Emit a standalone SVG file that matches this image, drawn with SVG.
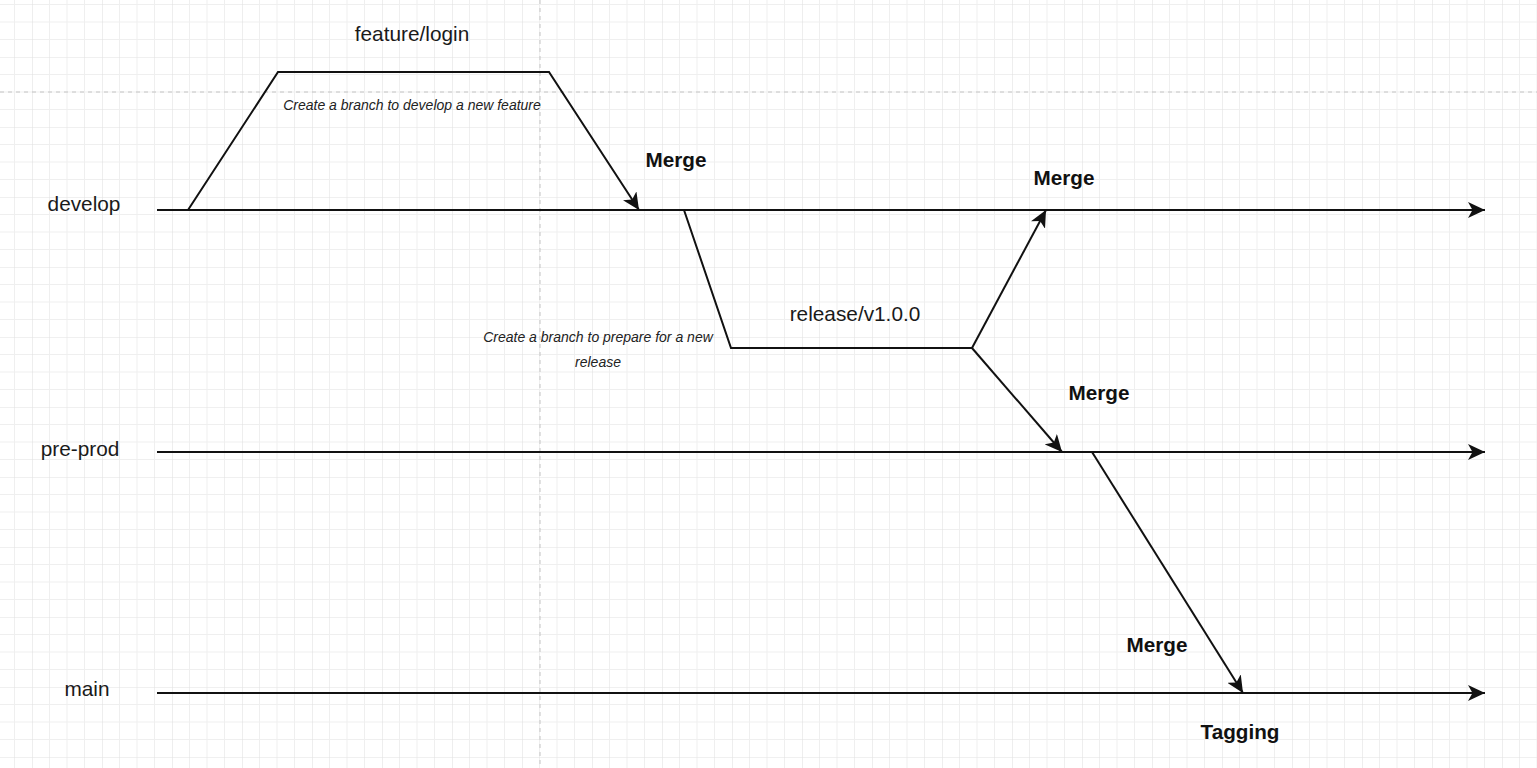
<svg xmlns="http://www.w3.org/2000/svg" width="1537" height="768" viewBox="0 0 1537 768">
  <style>
    .lbl { font-family: "Liberation Sans", Arial, sans-serif; font-size: 20.8px; fill: #1a1a1a; }
    .bold { font-family: "Liberation Sans", Arial, sans-serif; font-size: 20.7px; font-weight: bold; fill: #111; }
    .note { font-family: "Liberation Sans", Arial, sans-serif; font-size: 14px; font-style: italic; fill: #222; }
    .ln { fill: none; stroke: #111; stroke-width: 2; stroke-linejoin: miter; }
    .page { stroke: #c4c4c4; stroke-width: 1; stroke-dasharray: 4 4; }
  </style>
  <defs>
    <pattern id="grid" x="32" y="57" width="70" height="70" patternUnits="userSpaceOnUse">
      <path d="M17.5 0V70M35 0V70M52.5 0V70M0 17.5H70M0 35H70M0 52.5H70" stroke="#efefef" stroke-width="1" fill="none"/>
      <path d="M0 0V70M0 0H70" stroke="#e2e2e2" stroke-width="1.2" fill="none"/>
    </pattern>
    <marker id="arr" markerUnits="userSpaceOnUse" markerWidth="18" markerHeight="16" refX="17" refY="8" orient="auto">
      <path d="M0,0 L17,8 L0,16 L4.5,8 Z" fill="#111"/>
    </marker>
  </defs>
  <rect width="1537" height="768" fill="#ffffff"/>
  <rect width="1537" height="768" fill="url(#grid)"/>
  <line class="page" x1="0" y1="92" x2="1537" y2="92"/>
  <line class="page" x1="540" y1="0" x2="540" y2="768"/>

  <g id="connectors">
    <line class="ln" x1="157" y1="210" x2="1485" y2="210" marker-end="url(#arr)"/>
    <line class="ln" x1="157" y1="452" x2="1485" y2="452" marker-end="url(#arr)"/>
    <line class="ln" x1="157" y1="693" x2="1485" y2="693" marker-end="url(#arr)"/>
    <polyline class="ln" points="188,210 278,72 549,72 639,210" marker-end="url(#arr)"/>
    <polyline class="ln" points="684,210 731,348 972,348"/>
    <line class="ln" x1="972" y1="348" x2="1046" y2="210" marker-end="url(#arr)"/>
    <line class="ln" x1="972" y1="348" x2="1062" y2="452" marker-end="url(#arr)"/>
    <line class="ln" x1="1092" y1="452" x2="1243" y2="693" marker-end="url(#arr)"/>
  </g>

  <g id="develop"><text class="lbl" x="84" y="211" text-anchor="middle">develop</text></g>
  <g id="pre-prod"><text class="lbl" x="80" y="456" text-anchor="middle">pre-prod</text></g>
  <g id="main"><text class="lbl" x="87" y="696" text-anchor="middle">main</text></g>
  <g id="feature-login">
    <text class="lbl" x="412" y="41" text-anchor="middle">feature/login</text>
    <text class="note" x="412" y="110" text-anchor="middle">Create a branch to develop a new feature</text>
  </g>
  <g id="release">
    <text class="lbl" x="855" y="321" text-anchor="middle">release/v1.0.0</text>
    <text class="note" x="598" y="342" text-anchor="middle">Create a branch to prepare for a new</text>
    <text class="note" x="598" y="367" text-anchor="middle">release</text>
  </g>
  <g id="merge1"><text class="bold" x="676" y="167" text-anchor="middle">Merge</text></g>
  <g id="merge2"><text class="bold" x="1064" y="185" text-anchor="middle">Merge</text></g>
  <g id="merge3"><text class="bold" x="1099" y="400" text-anchor="middle">Merge</text></g>
  <g id="merge4"><text class="bold" x="1157" y="652" text-anchor="middle">Merge</text></g>
  <g id="tagging"><text class="bold" x="1240" y="739" text-anchor="middle">Tagging</text></g>
</svg>
